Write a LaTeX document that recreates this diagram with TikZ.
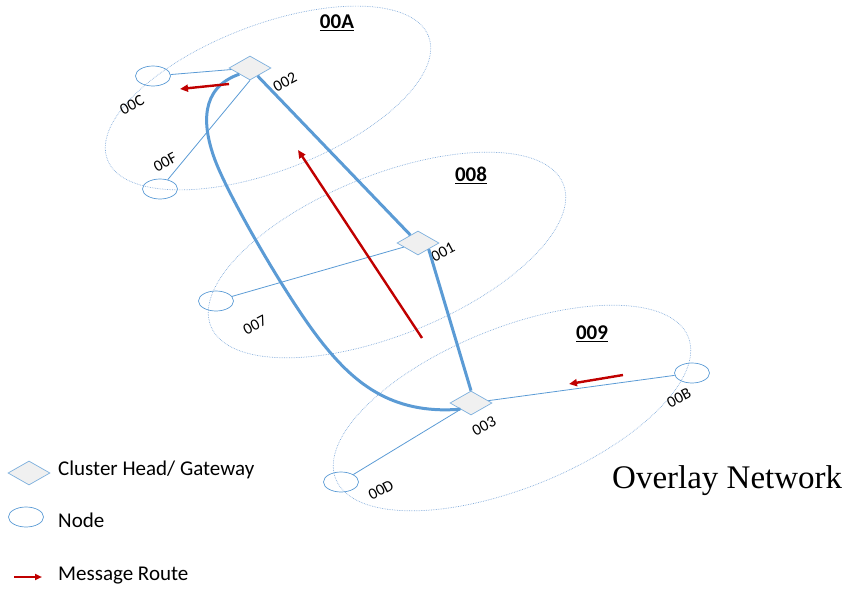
\documentclass[tikz,border=0pt]{standalone}
\usepackage{fontspec}
\setmainfont{Carlito}
\newfontfamily\timesfont{Liberation Serif}
\usetikzlibrary{shapes.geometric,arrows.meta}
\definecolor{linkblue}{HTML}{5B9BD5}
\definecolor{ringblue}{HTML}{86AEDC}
\definecolor{routered}{HTML}{C00000}
\tikzset{
	clusterring/.style={ringblue, line width=0.7pt, densely dotted},
	headbox/.style={diamond, draw=linkblue!80, fill=gray!12, line width=0.7pt, minimum width=42pt, minimum height=24pt, inner sep=0pt},
	memberring/.style={ellipse, draw=linkblue, line width=0.7pt, minimum width=35pt, minimum height=20pt, inner sep=0pt},
	thinlink/.style={linkblue, line width=0.8pt},
	trunklink/.style={linkblue, line width=3pt},
	msgroute/.style={routered, line width=2.4pt, -{Triangle[length=8pt,width=7pt]}},
	nodetag/.style={rotate=28, inner sep=0pt, font=\fontsize{16}{19}\selectfont},
	clustername/.style={inner sep=0pt, font=\fontsize{21}{25}\selectfont\bfseries},
	keytext/.style={anchor=base west, inner sep=0pt, font=\fontsize{21}{25}\selectfont}
}

\begin{document}
\begin{tikzpicture}[x=1pt,y=-1pt]
	%%%%% START %%%%%
	\useasboundingbox (0,0) rectangle (847,589);
	
	% clusters
	\draw[clusterring, shift={(268,98)}, rotate=21] (0,0) ellipse [x radius=172, y radius=73];
	\draw[clusterring, shift={(387,255)}, rotate=22] (0,0) ellipse [x radius=190, y radius=80];
	\draw[clusterring, shift={(512,408)}, rotate=22] (0,0) ellipse [x radius=190, y radius=80];
	
	\node[clustername] (t00A) at (337,23) {\underline{00A}};
	\node[clustername] (t008) at (471,175) {\underline{008}};
	\node[clustername] (t009) at (592,334) {\underline{009}};
	
	% heads and members
	\node[headbox] (n002) at (250,68) {};
	\node[headbox] (n001) at (418,243) {};
	\node[headbox] (n003) at (471,403) {};
	
	\node[memberring] (n00C) at (153,76) {};
	\node[memberring] (n00F) at (160,189) {};
	\node[memberring] (n007) at (216,301) {};
	\node[memberring] (n00B) at (692,373) {};
	\node[memberring] (n00D) at (341,482) {};
	
	\node[nodetag] (l002) at (285,82) {002};
	\node[nodetag] (l00C) at (132,105) {00C};
	\node[nodetag] (l00F) at (165,162) {00F};
	\node[nodetag] (l001) at (443,252) {001};
	\node[nodetag] (l007) at (255,325) {007};
	\node[nodetag] (l003) at (484,426) {003};
	\node[nodetag] (l00B) at (679,398) {00B};
	\node[nodetag] (l00D) at (381,490) {00D};
	
	% links
	\draw[thinlink] (n00C) -- (n002);
	\draw[thinlink] (n00F) -- (n002.south);
	\draw[thinlink] (n007) -- (n001);
	\draw[thinlink] (n003) -- (n00B);
	\draw[thinlink] (n003) -- (n00D);
	
	\draw[trunklink] (n002) -- (n001);
	\draw[trunklink] (n001.south east) -- (n003.north);
	\draw[trunklink] (n002.south west) .. controls (200,88) and (202,125) .. (215,160)
		.. controls (228,195) and (285,295) .. (320,340)
		.. controls (352,381) and (390,415) .. (n003.south west);
	
	% message routes
	\coordinate (r1a) at (229,84);
	\coordinate (r1b) at (180,89);
	\coordinate (r2a) at (422,338);
	\coordinate (r2b) at (298,150);
	\coordinate (r3a) at (623,375);
	\coordinate (r3b) at (569,384);
	\draw[msgroute] (r1a) -- (r1b);
	\draw[msgroute] (r2a) -- (r2b);
	\draw[msgroute] (r3a) -- (r3b);
	
	% legend
	\node[headbox] (k1) at (29,473) {};
	\node[memberring] (k2) at (26,517) {};
	\coordinate (k3a) at (14,577);
	\coordinate (k3b) at (42,577);
	\draw[msgroute, line width=2pt, -{Triangle[length=7pt,width=6pt]}] (k3a) -- (k3b);
	
	\node[keytext] (k1t) at (58,475) {Cluster Head/ Gateway};
	\node[keytext] (k2t) at (58,527) {Node};
	\node[keytext] (k3t) at (58,580) {Message Route};
	
	\node[anchor=base west, inner sep=0pt, font=\timesfont\fontsize{33}{38}\selectfont] (ttl) at (612,488) {Overlay Network};
	%%%%% END %%%%%
\end{tikzpicture}
\end{document}
